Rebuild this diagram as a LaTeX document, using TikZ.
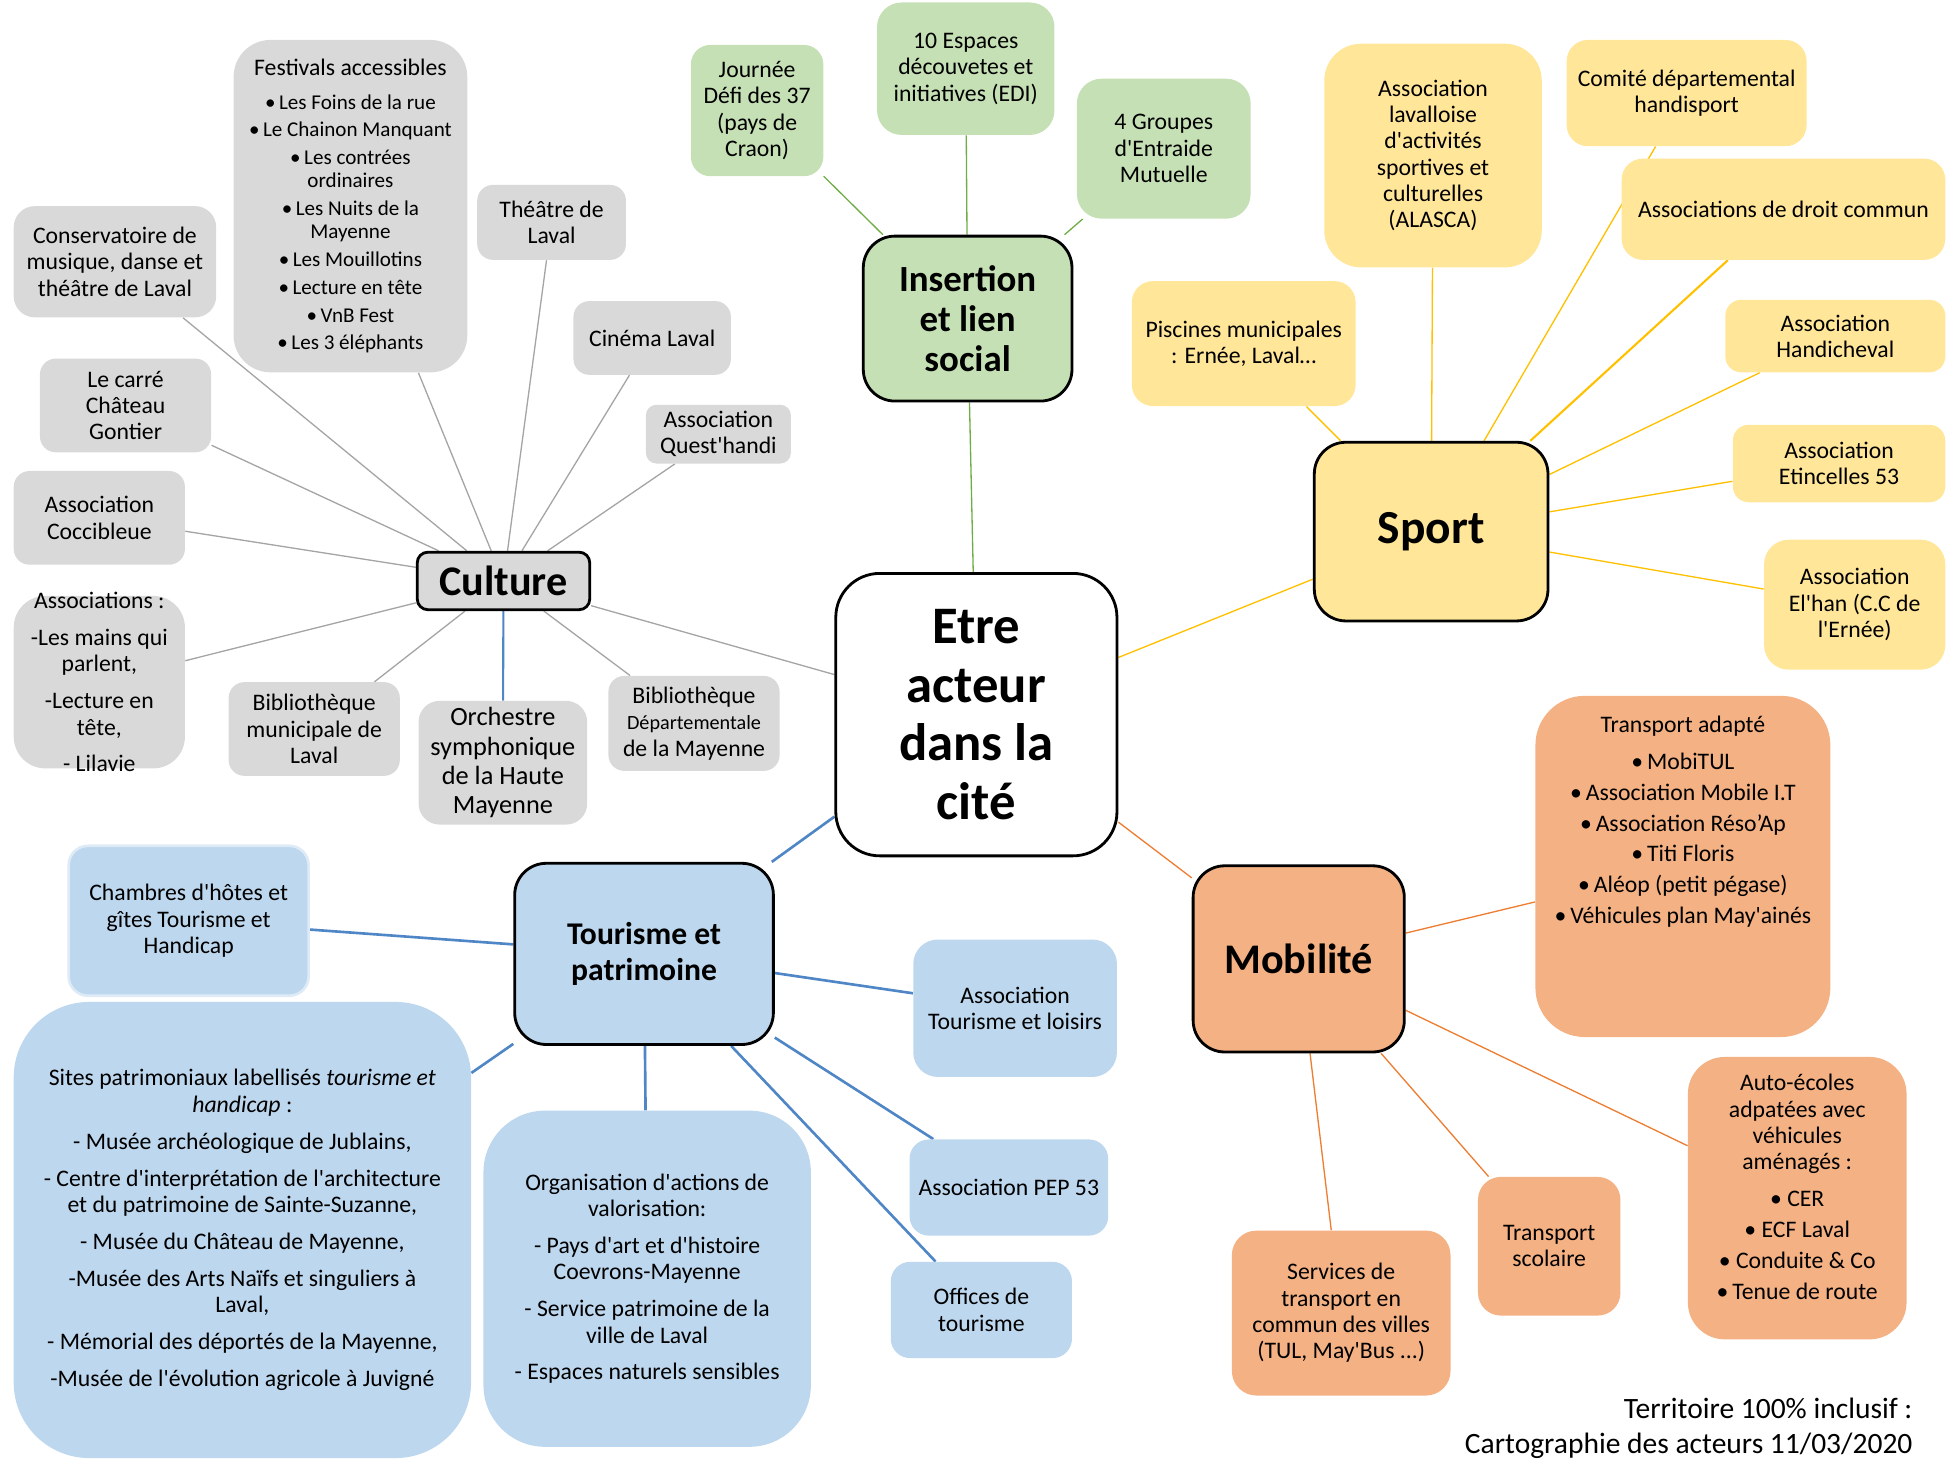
\documentclass[tikz,border=0pt]{standalone}
\usepackage{fontspec}
\setmainfont{Carlito}[Ligatures=TeXOff]
\usetikzlibrary{backgrounds,calc}

\definecolor{grayfill}{HTML}{D9D9D9}
\definecolor{grayedge}{HTML}{A5A5A5}
\definecolor{greenfill}{HTML}{C5E0B4}
\definecolor{greenedge}{HTML}{70AD47}
\definecolor{yellowfill}{HTML}{FFE699}
\definecolor{yellowedge}{HTML}{FFC000}
\definecolor{orangefill}{HTML}{F4B183}
\definecolor{orangeedge}{HTML}{ED7D31}
\definecolor{bluefill}{HTML}{BDD7EE}
\definecolor{blueedge}{HTML}{4F86C6}
\definecolor{bluerim}{HTML}{DEEBF7}

\begin{document}
\begin{tikzpicture}[x=0.025cm, y=-0.025cm]

	\tikzset{
		every node/.style={font=\fontsize{13.5}{15}\selectfont, align=center, inner sep=0pt},
		boxsize/.style 2 args={minimum width=#1*0.7113pt, minimum height=#2*0.7113pt},
		hub/.style={draw=black, line width=1.6pt, rounded corners=18pt},
		leaf/.style={rounded corners=9pt},
		grayleaf/.style={leaf, fill=grayfill},
		greenleaf/.style={leaf, fill=greenfill},
		yellowleaf/.style={leaf, fill=yellowfill},
		orangeleaf/.style={leaf, fill=orangefill},
		blueleaf/.style={leaf, fill=bluefill},
		graylink/.style={draw=grayedge, line width=0.75pt},
		greenlink/.style={draw=greenedge, line width=0.75pt},
		yellowlink/.style={draw=yellowedge, line width=0.75pt},
		orangelink/.style={draw=orangeedge, line width=0.75pt},
		bluelink/.style={draw=blueedge, line width=1.5pt}
	}

	\useasboundingbox (0,0) rectangle (1568,1169);

	% centre
	\node[hub, boxsize={225}{226}, rounded corners=25pt, fill=white, font=\fontsize{30}{33.5}\selectfont\bfseries] (etre) at (781.5,572) {Etre\\acteur\\dans la\\cité};

	% culture
	\node[hub, boxsize={138}{46}, rounded corners=6pt, fill=grayfill, font=\fontsize{24}{28}\selectfont\bfseries] (culture) at (403,465) {Culture};
	\node[grayleaf, boxsize={162}{89}, rounded corners=12pt] (conserv) at (92,209.5) {Conservatoire de\\musique, danse et\\théâtre de Laval};
	\node[grayleaf, boxsize={187}{266}, rounded corners=21pt, font=\fontsize{12}{13.2}\selectfont] (festivals) at (280.5,165) {\fontsize{13.5}{15}\selectfont Festivals accessibles\\[6pt]\textbullet\,Les Foins de la rue\\[2.6pt]\textbullet\,Le Chainon Manquant\\[2.6pt]\textbullet\,Les contrées\\ordinaires\\[2.6pt]\textbullet\,Les Nuits de la\\Mayenne\\[2.6pt]\textbullet\,Les Mouillotins\\[2.6pt]\textbullet\,Lecture en tête\\[2.6pt]\textbullet\,VnB Fest\\[2.6pt]\textbullet\,Les 3 éléphants};
	\node[grayleaf, boxsize={119}{60}] (theatre) at (441.5,178) {Théâtre de\\Laval};
	\node[grayleaf, boxsize={126}{59}] (cinema) at (522,270.5) {Cinéma Laval};
	\node[grayleaf, boxsize={137}{75}] (carre) at (100.5,324.5) {Le carré\\Château\\Gontier};
	\node[grayleaf, boxsize={116}{47}, rounded corners=6pt] (questhandi) at (575,347.5) {Association\\Quest'handi};
	\node[grayleaf, boxsize={137}{75}] (coccibleue) at (79.5,414.5) {Association\\Coccibleue};
	\node[grayleaf, boxsize={137}{138}, rounded corners=18pt] (assocs) at (79.5,546) {};
	\node (assocstxt) at (79.5,546) {Associations :\\[6pt]-Les mains qui\\parlent,\\[6pt]-Lecture en\\tête,\\[6pt]- Lilavie};
	\node[grayleaf, boxsize={137}{75}] (bibmun) at (251.5,583.5) {Bibliothèque\\municipale de\\Laval};
	\node[grayleaf, boxsize={135}{99}, rounded corners=12pt, font=\fontsize{15}{16.7}\selectfont] (orchestre) at (402.5,610.5) {Orchestre\\symphonique\\de la Haute\\Mayenne};
	\node[grayleaf, boxsize={137}{76}] (bibdep) at (555.5,579) {Bibliothèque\\{\fontsize{11.5}{13}\selectfont Départementale}\\de la Mayenne};

	% insertion
	\node[hub, boxsize={167}{132}, fill=greenfill, font=\fontsize{21}{23}\selectfont\bfseries] (insertion) at (774.5,255) {Insertion\\et lien\\social};
	\node[greenleaf, boxsize={106}{105}, rounded corners=11pt] (journee) at (606,88.5) {Journée\\Défi des 37\\(pays de\\Craon)};
	\node[greenleaf, boxsize={142}{106}, rounded corners=14pt] (edi) at (773,55) {10 Espaces\\découvetes et\\initiatives (EDI)};
	\node[greenleaf, boxsize={139}{112}, rounded corners=14pt] (gem) at (931.5,119) {4 Groupes\\d'Entraide\\Mutuelle};

	% sport
	\node[hub, boxsize={187}{143}, fill=yellowfill, font=\fontsize{27}{30}\selectfont\bfseries] (sport) at (1145.5,425.5) {Sport};
	\node[yellowleaf, boxsize={174}{179}, rounded corners=21pt] (alasca) at (1147,124.5) {Association\\lavalloise\\d'activités\\sportives et\\culturelles\\(ALASCA)};
	\node[yellowleaf, boxsize={192}{85}, rounded corners=12pt] (comite) at (1350,74.5) {Comité départemental\\handisport};
	\node[yellowleaf, boxsize={259}{81}, rounded corners=12pt] (droitcommun) at (1427.5,167.5) {Associations de droit commun};
	\node[yellowleaf, boxsize={179}{100}, rounded corners=12pt] (piscines) at (995.5,275) {Piscines municipales\\: Ernée, Laval…};
	\node[yellowleaf, boxsize={176}{58}] (handicheval) at (1469,269) {Association\\Handicheval};
	\node[yellowleaf, boxsize={170}{62}] (etincelles) at (1472,371) {Association\\Etincelles 53};
	\node[yellowleaf, boxsize={145}{104}, rounded corners=14pt] (elhan) at (1484.5,484) {Association\\El'han (C.C de\\l'Ernée)};

	% mobilite
	\node[hub, boxsize={169}{149}, fill=orangefill, font=\fontsize{24}{28}\selectfont\bfseries] (mobilite) at (1039.5,767.5) {Mobilité};
	\node[orangeleaf, boxsize={236}{273}, rounded corners=28pt] (adapte) at (1347,693.5) {};
	\node[anchor=north] (adaptetxt) at ($(adapte.north)+(0,16)$) {Transport adapté\\[6pt]\textbullet\,MobiTUL\\[2.6pt]\textbullet\,Association Mobile I.T\\[2.6pt]\textbullet\,Association Réso’Ap\\[2.6pt]\textbullet\,Titi Floris\\[2.6pt]\textbullet\,Aléop (petit pégase)\\[2.6pt]\textbullet\,Véhicules plan May'ainés};
	\node[orangeleaf, boxsize={175}{226}, rounded corners=21pt] (autoecoles) at (1438.5,959) {};
	\node (autoecolestxt) at (1438.5,950) {Auto-écoles\\adpatées avec\\véhicules\\aménagés :\\[6pt]\textbullet\ CER\\[2.6pt]\textbullet\ ECF Laval\\[2.6pt]\textbullet\ Conduite \& Co\\[2.6pt]\textbullet\,Tenue de route};
	\node[orangeleaf, boxsize={114}{111}, rounded corners=13pt] (scolaire) at (1240,997.5) {Transport\\scolaire};
	\node[orangeleaf, boxsize={175}{132}, rounded corners=14pt] (services) at (1073.5,1051) {Services de\\transport en\\commun des villes\\(TUL, May'Bus ...)};

	% tourisme
	\node[hub, boxsize={207}{145}, fill=bluefill, font=\fontsize{18}{20}\selectfont\bfseries] (tourisme) at (515.5,763.5) {Tourisme et\\patrimoine};
	\node[blueleaf, boxsize={192}{120}, rounded corners=11pt, draw=bluerim, line width=1.5pt] (chambres) at (151,737) {Chambres d'hôtes et\\gîtes Tourisme et\\Handicap};
	\node[blueleaf, boxsize={366}{365}, rounded corners=43pt] (sites) at (194,984.5) {Sites patrimoniaux labellisés \textit{tourisme et}\\\textit{handicap} :\\[6pt]- Musée archéologique de Jublains,\\[6pt]- Centre d'interprétation de l'architecture\\et du patrimoine de Sainte-Suzanne,\\[6pt]- Musée du Château de Mayenne,\\[6pt]-Musée des Arts Naïfs et singuliers à\\Laval,\\[6pt]- Mémorial des déportés de la Mayenne,\\[6pt]-Musée de l'évolution agricole à Juvigné};
	\node[blueleaf, boxsize={262}{269}, rounded corners=35pt] (valorisation) at (518,1023.5) {Organisation d'actions de\\valorisation:\\[6pt]- Pays d'art et d'histoire\\Coevrons-Mayenne\\[6pt]- Service patrimoine de la\\ville de Laval\\[6pt]- Espaces naturels sensibles};
	\node[blueleaf, boxsize={163}{110}, rounded corners=14pt] (loisirs) at (812.5,807) {Association\\Tourisme et loisirs};
	\node[blueleaf, boxsize={159}{77}, rounded corners=11pt] (pep) at (807.5,950.5) {Association PEP 53};
	\node[blueleaf, boxsize={145}{77}, rounded corners=11pt] (offices) at (785.5,1048.5) {Offices de\\tourisme};

	\node[anchor=east, align=right, font=\fontsize{16.8}{20}\selectfont] (credit) at (1531,1143) {Territoire 100\% inclusif :\\Cartographie des acteurs 11/03/2020};

	% liens
	\begin{scope}[on background layer]
		\draw[graylink] (etre) -- (culture);
		\draw[graylink] (culture) -- (conserv);
		\draw[graylink] (culture) -- (festivals);
		\draw[graylink] (culture) -- (theatre);
		\draw[graylink] (culture) -- (cinema);
		\draw[graylink] (culture) -- (carre);
		\draw[graylink] (culture) -- (questhandi);
		\draw[graylink] (culture) -- (coccibleue);
		\draw[graylink] (culture) -- (assocs);
		\draw[graylink] (culture) -- (bibmun);
		\draw[graylink] (culture) -- (bibdep);
		\draw[bluelink, line width=1.2pt] (culture) -- (orchestre);

		\draw[greenlink] (etre) -- (insertion);
		\draw[greenlink] (insertion) -- (journee);
		\draw[greenlink] (insertion) -- (edi);
		\draw[greenlink] (insertion) -- (gem);

		\draw[yellowlink] (etre) -- (sport);
		\draw[yellowlink] (sport) -- (alasca);
		\draw[yellowlink] (sport) -- (comite);
		\draw[yellowlink, line width=1.2pt] (sport) -- (droitcommun);
		\draw[yellowlink] (sport) -- (piscines);
		\draw[yellowlink] (sport) -- (handicheval);
		\draw[yellowlink] (sport) -- (etincelles);
		\draw[yellowlink] (sport) -- (elhan);

		\draw[orangelink] (etre) -- (mobilite);
		\draw[orangelink] (mobilite) -- (adapte);
		\draw[orangelink] (mobilite) -- (autoecoles);
		\draw[orangelink] (mobilite) -- (scolaire);
		\draw[orangelink] (mobilite) -- (services);

		\draw[bluelink] (etre) -- (tourisme);
		\draw[bluelink] (tourisme) -- (chambres);
		\draw[bluelink] (tourisme) -- (sites);
		\draw[bluelink] (tourisme) -- (valorisation);
		\draw[bluelink] (tourisme) -- (loisirs);
		\draw[bluelink] (tourisme) -- (pep);
		\draw[bluelink] (tourisme) -- (offices);
	\end{scope}

\end{tikzpicture}
\end{document}
